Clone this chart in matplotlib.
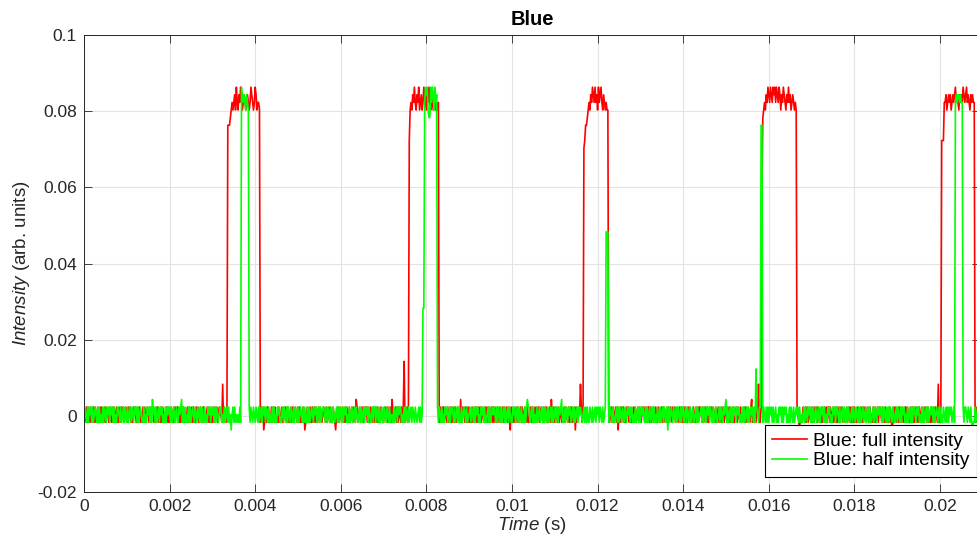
import numpy as np
import matplotlib
matplotlib.use("Agg")
import matplotlib.pyplot as plt

# ---------------- data ----------------
dt = 2e-5                 # sample interval (s)
level_step = 0.002        # quantisation step of the detector (arb. units)
level_offset = 0.0003     # level of code 0

noise_code = {'-': -1, '0': 0, '+': 1}

red_noise = "".join("""
+-0+-+0-+- 0+-+-0+--+ -+0-+-+00- +0-+-+-0+- -0+-+0+-0+ 0-+0+-0-+0 +--+0+-0-+ -+-0+0-+-+ 0+-0-++-0- +-+0-0+-+-
-0+0-+-+0+ +-0-+0+--0 0+-+0-+-+- -+0+--+0-+ +0-0+-+-0- -+-+0+-0+0 0-+-+0-++- +-0+-0+-0+ -+0-0+-+-0 +0+-+-0-+-
0-+-0+-+0+ +-0-++-0-+ -+0+-0-+-0 0+--+0+-+- -0+-+-0+0- +-+-0-+0+- 0+0-+--+-+ -+-0+-+0-0 +0-+-0+-+- -+0-+0-+-+
0-+0-+-+0- +-0+-+0--+ -0+-0+-+0+ +-+-0+0-+- 0+-+-0-+0- -+0+-+-0+- +0-0+-+-+0 -+-+0-0+-+ 0-+-+0+-0- +-0+-0-++-
-0+-+0-+-+ 0+-0+-+-0+ +-+0-+-0+- -+0-+-0+0- 0-+0+-+-+- +-0-+-0+-+ -+0+-+0-0+ 0+-+-0+-+- +0-+0-+-0+ -+-0+-+0-+
0-+-0+-+-0 +-+0-+0-+- -0+-+-0+-+ 0+-0+0-+-+ +--0+-+0-+ -+0-+-0+-0 0+-+0-+-+- +-0+-+-0+0 -+-0+0-+-+ 0-+-+-0+0-
+0-+-+0-+- -+0+-0+-+- 0+-+-0-+-+ +-0-+0+-0- -0+-+-0+-+ 0-+0+-0+-+ +-+-0+-0+- -+0-0+-+0- 0+-+-+0-+0 +-0+0-+-+-
-+-+0-+0+- 0-+0-+-+0+ +0-+-0+-+- -+0+-+0-+- 0+-0-+0+-+ +-+0+-0-+- -0+-+0-+-0 0+-+-0+0-+ +-0-+-+0+- -+0+-0-+-+
0-+-+0+-+- +-0+-+0-0+ -+-0+-+-0+ 0+-+0-+0-- +0-+-+-0+- -+0-+0+-+0 0-+-0+-+-+ +-+0-+-0+- -0+-+0+-0- 0+-0+-+-+-
+-0-+0-+-+ -+0+-0+-+0 0-+-+-0+-+ +0-+0-+-0- -+-0+-+0+- 0+-+-0+-0+ +-+0-0+-+- -0+-+-+0-+ 0-+0+-+-0- +-0+-+0-+-
-+0-+-0+-+ 0+-+0-+-+0 +-0-+-+0-+ -0+0+-+-0- 0-+-+0-+0+ +-+-0+-0+- -+0+-+-0-+ 0+-0-+0+-+ +0-+-0+-+- -+-+0-0+-+
0-+0-+-+-0 +-0+-0+-+- -0+-+0-+0+ 0+-+-+0-+- +-+0-+0-0+ -+0-+-+0+- 0-+-0+-+-+ +0-+0+-0-+ -+-0+-+-0+ 0+-+-0+0-+
""".split())

green_noise = "".join("""
-+0-+-+0+- +-0+0-+-+- 0-+-+0-+0+ -+0+-+-0-+ +0-+-0+-+0 -+-0+-+0-+ 0+-+-0+0-- +-0-+0+-+- -0+-+-0+-+ 0+-0-+-+0+
+-+-0+-0+- -+0+0-+-+- 0-+-+-0+0- +0-+0-+-+- -+-0-+0+-+ 0+-+-+0-0+ +-0-+-0+-+ -0+0+-+-0- 0-+-+0-+-+ +-0+-+0-+0
-+0-+-0+-+ 0+-+0-+-0- +-+-0-+0+- -0+-+0-+-+ 0-+0-+-+0- +-0+0-+-+- -+-+-0+0-+ 0+-0+-+-0+ +0-+-+0-+- -+0-0+-+-+
0-+-+0+-0- +-0+-0+-+0 -0+-+-0+-+ 0+-+0-0+-+ +-+0-+-0+- -+0-+0-+-0 0-+-0+-+0+ +-0-+-+0-+ -0+-+0-+0- 0+-+-0-+-+
+-+0-+-0+0 -+0+-+0-+- 0-+0+-0+-+ +0-+-0+-+- -+-0+0-+-0 0+-+0-+-+0 +-0-+0+-+- -0+-+-0+0+ 0-+-+0-+-0 +-+-0+-+0-
-+0+-0+-+- 0+-0-+-+0+ +-0+-+-0-+ -0+-0+-+-+ 0-+-0+-+-0 +-+0-+0+-- -+-+0-+0+- 0+-+-0+-+0 +0-0+-+-+- -+0-+-0+-+
0+-+0-+-0+ +-+-0+0-+- -0+-+-+0-+ 0-+0-+0+-+ +-0-+-0+-+ -+0+0-+-+- 0+-0+-+-0- +0-+-0+-+0 -+-+-0+0-+ 0-+-+0-+-+
+-0+-+0-+- -+0-0+-+-0 0+-+-+0-+0 +-+0-+-0+- -0+-+0-+0+ 0-+-0+-+-+ +0-+0+-0-+ -+-0+-+-0+ 0+-+-0+0-+ +-0-+0-+-+
-+0+-+-0+- 0-+0+-+-+0 +-0-+-+0-+ -0+0+-+-0- 0+-+0-+0+- +-+-0+-0+- -+0+-+-0-+ 0+-0-+0+-+ +0-+-0+-+- -+-+0-0+-+
0-+0-+-+-0 +-0+-0+-+- -0+-+0-+0+ 0+-+-+0-+- +-+0-+0-0+ -+0-+-+0+- 0-+-0+-+-+ +0-+0+-0-+ -+-0+-+-0+ 0+-+-0+0-+
+-0-+0-+-+ -+0+-0+-+0 0-+-+-0+-+ +0-+0-+-0- -+-0+-+0+- 0+-+-0+-0+ +-+0-0+-+- -0+-+-+0-+ 0-+0+-+-0- +-0+-+0-+-
-+0-+-0+-+ 0+-+0-+-+0 +-0-+-+0-+ -0+0+-+-0- 0-+-+0-+0+ +-+-0+-0+- -+0+-+-0-+ 0+-0-+0+-+ +0-+-0+-+- -+-+0-0+-+
""".split())

# (start time in s, quantised levels) overriding the noise floor
red_events = [
    (0.00324, [4]),
    (0.00336, [38, 38, 38, 39, 40, 41, 40, 41, 42, 40, 43, 41, 40, 42, 41, 43, 42, 40, 41,
               42, 41, 40, 41, 42, 41, 40, 41, 43, 42, 41, 40, 41, 43, 42, 40, 41, 41, 40]),
    (0.00420, [-2]),
    (0.00516, [-2]),
    (0.00588, [-2]),
    (0.00636, [2]),
    (0.00720, [2]),
    (0.00748, [7]),
    (0.00760, [36, 40, 41, 40, 42, 41, 43, 41, 40, 42, 41, 43, 40, 41, 42, 40, 41, 43,
               42, 41, 40, 42, 41, 43, 41, 40, 42, 41, 40, 41, 42, 40, 41, 40, 41]),
    (0.00880, [2]),
    (0.00996, [-2]),
    (0.01092, [2]),
    (0.01148, [-2]),
    (0.01160, [4]),
    (0.01168, [35, 36, 38, 38, 39, 40, 41, 40, 42, 41, 43, 42, 41, 43, 41, 42, 40, 43,
               41, 42, 43, 41, 40, 42, 41, 40, 41, 40, 40]),
    (0.01248, [-2]),
    (0.01560, [2]),
    (0.01576, [4]),
    (0.01584, [30, 39, 40, 41, 40, 42, 41, 43, 42, 41, 43, 42, 41, 43, 42, 43, 41, 43, 42,
               41, 43, 42, 40, 42, 41, 43, 42, 41, 40, 42, 41, 43, 41, 42, 40, 41, 42, 41,
               40, 41, 40]),
    (0.01672, [-2]),
    (0.01888, [-2]),
    (0.01996, [4]),
    (0.02004, [36, 36, 36, 41, 41, 42, 40, 41, 42, 41, 42, 40, 41, 42, 41, 42, 43, 41, 42,
               41, 40, 42, 41, 42, 41, 43, 42, 41, 42, 43, 41, 42, 41, 40, 42, 41, 42, 41, 41]),
]

green_events = [
    (0.00160, [2]),
    (0.00228, [2]),
    (0.00344, [-2]),
    (0.00368, [43, 42, 41, 42, 41, 40, 42, 41, 40]),
    (0.00792, [14, 14, 41, 43, 42, 43, 40, 39, 39, 43, 41, 43, 42, 40, 43, 41, 42]),
    (0.01036, [2]),
    (0.01116, [2]),
    (0.01220, [24, 24, 24]),
    (0.01364, [-2]),
    (0.01500, [2]),
    (0.01570, [6]),
    (0.01582, [38, 38]),
    (0.02036, [41, 42, 41, 42, 42, 41, 42, 41, 41]),
    (0.02076, [-2]),
]

series_labels = ["Blue: full intensity", "Blue: half intensity"]
title_text = "Blue"
x_ticks = [0, 0.002, 0.004, 0.006, 0.008, 0.01, 0.012, 0.014, 0.016, 0.018, 0.02]
x_tick_labels = ["0", "0.002", "0.004", "0.006", "0.008", "0.01", "0.012",
                 "0.014", "0.016", "0.018", "0.02"]
y_ticks = [-0.02, 0, 0.02, 0.04, 0.06, 0.08, 0.1]
y_tick_labels = ["-0.02", "0", "0.02", "0.04", "0.06", "0.08", "0.1"]


def build(noise, events):
    k = np.array([noise_code[c] for c in noise], dtype=float)
    for t0, levels in events:
        i0 = int(round(t0 / dt))
        k[i0:i0 + len(levels)] = levels
    t = np.arange(len(k)) * dt
    return t, level_offset + level_step * k


t_red, y_red = build(red_noise, red_events)
t_green, y_green = build(green_noise, green_events)

# ---------------- style ----------------
plt.rcParams['font.family'] = ['Liberation Sans', 'DejaVu Sans']
plt.rcParams['mathtext.fontset'] = 'custom'
plt.rcParams['mathtext.rm'] = 'Liberation Sans'
plt.rcParams['mathtext.it'] = 'Liberation Sans:italic'

axis_col = '#262626'
W, H = 978, 544
fig = plt.figure(figsize=(W / 100, H / 100), dpi=100)
ax = fig.add_axes([84 / W, 52 / H, (980 - 84) / W, 457 / H])

ax.plot(t_red, y_red, color='#ff0000', lw=1.2, label=series_labels[0])
ax.plot(t_green, y_green, color='#00ff00', lw=1.2, label=series_labels[1])

ax.set_xlim(0, (980 - 84) / 42800)
ax.set_ylim(-0.02, 0.1)
ax.set_xticks(x_ticks)
ax.set_xticklabels(x_tick_labels)
ax.set_yticks(y_ticks)
ax.set_yticklabels(y_tick_labels)

ax.grid(True, color='#e3e3e3', lw=0.8)
ax.set_axisbelow(True)
ax.tick_params(direction='in', top=True, right=True, length=6, width=0.6,
               colors=axis_col, labelsize=12.5)
ax.tick_params(axis='x', pad=5)
ax.tick_params(axis='y', pad=5)
for s in ax.spines.values():
    s.set_color(axis_col)
    s.set_linewidth(0.7)

ax.set_title(title_text, fontweight='bold', fontsize=14.5, pad=7, color='black')
ax.set_xlabel(r'$\mathit{Time}$ (s)', fontsize=13.5, color=axis_col, labelpad=1)
ax.set_ylabel(r'$\mathit{Intensity}$ (arb. units)', fontsize=13.5, color=axis_col, labelpad=4)

leg = ax.legend(loc='lower right', bbox_to_anchor=((977 - 84) / 896, (492 - 477) / 457),
                borderaxespad=0, fontsize=13.9, fancybox=False, framealpha=1,
                edgecolor='black', handlelength=1.8, handletextpad=0.3,
                borderpad=0.4, labelspacing=0.1)
leg.get_frame().set_linewidth(0.8)

fig.savefig('out.png', dpi=100)
